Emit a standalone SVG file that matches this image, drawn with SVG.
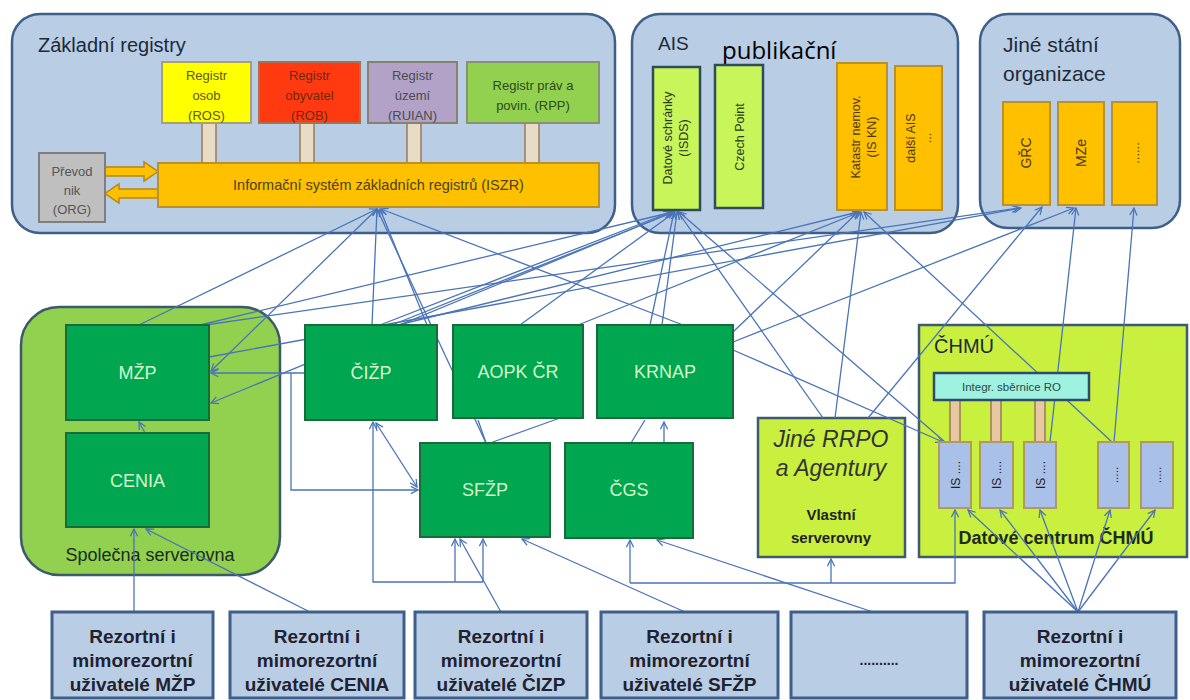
<svg xmlns="http://www.w3.org/2000/svg" width="1190" height="700" viewBox="0 0 1190 700">
<style>
text{font-family:"Liberation Sans",Arial,sans-serif}
.ct{fill:#b9cde5;stroke:#3d5f8a;stroke-width:2.5}
.g{fill:#00a650;stroke:#1a6b3c;stroke-width:2}
.gt{fill:#d6f7c9;font-size:18px;text-anchor:middle}
.yg{fill:#c9ef3f;stroke:#3d5a70;stroke-width:2.5}
.or{fill:#ffc000;stroke:#b8912a;stroke-width:2}
.lg{fill:#c8f55a;stroke:#2e4d5c;stroke-width:2.5}
.ub{fill:#b9cde5;stroke:#3d5f8a;stroke-width:3}
.is{fill:#a9c0e8;stroke:#b09a60;stroke-width:2}
.pl{fill:#e8dcc6;stroke:#9a7a5a;stroke-width:1.5}
.c{fill:none;stroke:#4a74b8;stroke-width:1.3}
.ca{fill:none;stroke:#4a74b8;stroke-width:1.3;marker-end:url(#a)}
.cb{fill:none;stroke:#4a74b8;stroke-width:1.3;marker-end:url(#a);marker-start:url(#a)}
.ttl{fill:#1c2a3a;font-size:20px}
.rt{font-size:13px;text-anchor:middle}
.ut{fill:#1f2230;font-size:19px;font-weight:bold;text-anchor:middle}
.bar{fill:#ffc000;stroke:#b8860b;stroke-width:1.5}
</style>
<defs>
<marker id="a" viewBox="0 0 10 10" refX="9" refY="5" markerWidth="9" markerHeight="9" orient="auto-start-reverse" markerUnits="userSpaceOnUse"><path d="M1,1 L9,5 L1,9" fill="none" stroke="#4a74b8" stroke-width="1.4"/></marker>
</defs>
<rect width="1190" height="700" fill="#ffffff"/>

<!-- containers -->
<g id="zakladni-registry"><rect class="ct" x="12" y="14" width="603" height="219" rx="28"/><text class="ttl" x="38" y="52">Základní registry</text></g>
<g id="ais"><rect class="ct" x="632" y="14" width="326" height="219" rx="28"/><text class="ttl" x="658" y="50" style="font-size:19px">AIS</text><text x="722" y="59" style="font-family:'Open Sans',sans-serif;font-size:24px;fill:#000">publikační</text></g>
<g id="jine-statni"><rect class="ct" x="980" y="14" width="200" height="214" rx="28"/><text class="ttl" x="1003" y="52" style="font-size:21px">Jiné státní</text><text class="ttl" x="1003" y="81" style="font-size:21px">organizace</text></g>
<g id="spolecna"><rect x="21" y="307" width="259" height="268" rx="38" fill="#92d050" stroke="#3d5a6b" stroke-width="2.5"/><text x="150" y="561" style="font-size:18px;fill:#1a2a1a;text-anchor:middle">Společna serverovna</text></g>
<g id="chmu"><rect class="yg" x="919" y="325" width="268" height="232"/><text class="ttl" x="934" y="353">ČHMÚ</text><text x="1056" y="544" style="font-size:18px;font-weight:bold;fill:#1f2a1a;text-anchor:middle">Datové centrum ČHMÚ</text></g>
<g id="jine-rrpo"><rect class="yg" x="758" y="418" width="147" height="139"/><text x="831" y="447" style="font-size:23px;font-style:italic;fill:#333;text-anchor:middle">Jiné RRPO</text><text x="831" y="476" style="font-size:23px;font-style:italic;fill:#333;text-anchor:middle">a Agentury</text><text x="831" y="520" style="font-size:15px;font-weight:bold;fill:#222;text-anchor:middle">Vlastní</text><text x="831" y="543" style="font-size:15px;font-weight:bold;fill:#222;text-anchor:middle">serverovny</text></g>

<!-- connectors -->
<g id="connectors">
<polygon class="bar" points="105,167 144,167 144,162 158,171.5 144,181 144,176 105,176"/>
<polygon class="bar" points="158,189 119,189 119,184 105,193.5 119,203 119,198 158,198"/>
<path class="ca" d="M139,325 L377,209"/>
<path class="ca" d="M377,209 L211,371"/>
<path class="ca" d="M372,325 L377,209"/>
<path class="ca" d="M427,325 L380,209"/>
<path class="ca" d="M683,325 L381,209"/>
<path class="ca" d="M486,443 L377,209"/>
<path class="ca" d="M200,325 L673,212"/>
<path class="ca" d="M673,212 L211,403"/>
<path class="ca" d="M380,325 L671,212"/>
<path class="ca" d="M392,325 L674,212"/>
<path class="ca" d="M520,325 L675,212"/>
<path class="ca" d="M578,325 L860,212"/>
<path class="ca" d="M398,325 L858,212"/>
<path class="ca" d="M650,325 L674,212"/>
<path class="ca" d="M662,325 L677,212"/>
<path class="ca" d="M823,418 L678,212"/>
<path class="ca" d="M945,442 L679,212"/>
<path class="ca" d="M733,332 L858,212"/>
<path class="ca" d="M835,418 L861,212"/>
<path class="ca" d="M1112,442 L864,212"/>
<path class="ca" d="M205,325 L1019,208"/>
<path class="ca" d="M209,357 L1021,208"/>
<path class="ca" d="M733,342 L1074,208"/>
<path class="ca" d="M1050,442 L1076,208"/>
<path class="ca" d="M1114,442 L1134,208"/>
<path class="ca" d="M868,418 L1042,207"/>
<path class="ca" d="M733,350 L943,442"/>
<path class="ca" d="M305,373 L211,373"/>
<path class="ca" d="M291,373 V490 H418"/>
<path class="cb" d="M376,423 L417,487"/>
<path class="ca" d="M145,433 L139,422"/>
<path class="c" d="M478,420 L486,443"/>
<path class="c" d="M560,418 L490,443"/>
<path class="c" d="M631,443 L645,420"/>
<path class="ca" d="M664,443 L664,422"/>
<path class="ca" d="M483,582 H373 V422"/>
<path class="ca" d="M455,582 V539"/>
<path class="ca" d="M483,582 V539"/>
<path class="ca" d="M630,583 H955 V510"/>
<path class="ca" d="M630,583 V540"/>
<path class="ca" d="M831,583 V559"/>
<path class="ca" d="M134,612 V529"/>
<path class="ca" d="M310,612 L146,529"/>
<path class="ca" d="M501,612 L460,539"/>
<path class="ca" d="M685,612 L522,539"/>
<path class="ca" d="M873,612 L657,540"/>
<path class="ca" d="M1078,612 L968,510"/>
<path class="ca" d="M1078,612 L1000,510"/>
<path class="ca" d="M1078,612 L1040,510"/>
<path class="ca" d="M1078,612 L1110,510"/>
<path class="ca" d="M1078,612 L1155,510"/>
</g>

<!-- Základní registry inner -->
<g id="pillars-zr"><rect class="pl" x="202" y="123" width="14" height="40"/><rect class="pl" x="300" y="123" width="14" height="40"/><rect class="pl" x="407" y="123" width="14" height="40"/><rect class="pl" x="525" y="123" width="14" height="40"/></g>
<g id="ros"><rect x="162" y="62" width="89" height="61" fill="#ffff00" stroke="#a8a070" stroke-width="2"/><text class="rt" x="206.5" y="80" fill="#5a5a10">Registr</text><text class="rt" x="206.5" y="100" fill="#5a5a10">osob</text><text class="rt" x="206.5" y="120" fill="#5a5a10">(ROS)</text></g>
<g id="rob"><rect x="259" y="62" width="101" height="61" fill="#ff3a10" stroke="#a87050" stroke-width="2"/><text class="rt" x="309.5" y="80" fill="#6a2a10">Registr</text><text class="rt" x="309.5" y="100" fill="#6a2a10">obyvatel</text><text class="rt" x="309.5" y="120" fill="#6a2a10">(ROB)</text></g>
<g id="ruian"><rect x="368" y="62" width="89" height="61" fill="#b3a2c7" stroke="#8a8070" stroke-width="2"/><text class="rt" x="412.5" y="80" fill="#4a4a50">Registr</text><text class="rt" x="412.5" y="100" fill="#4a4a50">území</text><text class="rt" x="412.5" y="120" fill="#4a4a50">(RUIAN)</text></g>
<g id="rpp"><rect x="467" y="62" width="132" height="61" fill="#92d050" stroke="#8a9070" stroke-width="2"/><text class="rt" x="533" y="90" fill="#2e4a1a">Registr práv a</text><text class="rt" x="533" y="110" fill="#2e4a1a">povin. (RPP)</text></g>
<g id="iszr"><rect x="158" y="163" width="441" height="44" fill="#ffc000" stroke="#b8912a" stroke-width="2"/><text x="378.5" y="190" style="font-size:14.5px;fill:#4a4218;text-anchor:middle">Informační systém základních registrů (ISZR)</text></g>
<g id="prevodnik"><rect x="39" y="153" width="66" height="69" fill="#bfbfbf" stroke="#7f7f7f" stroke-width="2"/><text class="rt" x="72" y="176" fill="#555">Převod</text><text class="rt" x="72" y="195" fill="#555">nik</text><text class="rt" x="72" y="214" fill="#555">(ORG)</text></g>

<!-- AIS inner -->
<g id="isds"><rect class="lg" x="653" y="67" width="47" height="143"/><text class="rt" transform="translate(672,138) rotate(-90)" fill="#2a3a1a" style="font-size:12.5px">Datové schránky</text><text class="rt" transform="translate(688,138) rotate(-90)" fill="#2a3a1a" style="font-size:12.5px">(ISDS)</text></g>
<g id="czech-point"><rect class="lg" x="715" y="65" width="48" height="143"/><text class="rt" transform="translate(744,137) rotate(-90)" fill="#2a3a1a" style="font-size:12.5px">Czech Point</text></g>
<g id="katastr"><rect class="or" x="837" y="63" width="50" height="147"/><text class="rt" transform="translate(860,137) rotate(-90)" fill="#4a3a10" style="font-size:12.5px">Katastr nemov.</text><text class="rt" transform="translate(876,137) rotate(-90)" fill="#4a3a10" style="font-size:12.5px">(IS KN)</text></g>
<g id="dalsi-ais"><rect class="or" x="895" y="66" width="47" height="144"/><text class="rt" transform="translate(915,138) rotate(-90)" fill="#4a3a10" style="font-size:12.5px">další AIS</text><text class="rt" transform="translate(931,138) rotate(-90)" fill="#4a3a10" style="font-size:12.5px">...</text></g>

<!-- Jiné státní inner -->
<g id="grc"><rect class="or" x="1003" y="102" width="47" height="103"/><text class="rt" transform="translate(1031,153) rotate(-90)" fill="#4a3a10" style="font-size:14px">GŘC</text></g>
<g id="mze"><rect class="or" x="1058" y="102" width="46" height="103"/><text class="rt" transform="translate(1086,153) rotate(-90)" fill="#4a3a10" style="font-size:14px">MZe</text></g>
<g id="jso-dots"><rect class="or" x="1112" y="102" width="45" height="103"/><text class="rt" transform="translate(1139,153) rotate(-90)" fill="#4a3a10" style="font-size:13px">......</text></g>

<!-- green nodes -->
<g id="mzp"><rect class="g" x="66" y="325" width="143" height="95"/><text class="gt" x="137.5" y="379">MŽP</text></g>
<g id="cenia"><rect class="g" x="66" y="433" width="143" height="94"/><text class="gt" x="137.5" y="487">CENIA</text></g>
<g id="cizp"><rect class="g" x="305" y="325" width="132" height="95"/><text class="gt" x="371" y="379">ČIŽP</text></g>
<g id="aopk"><rect class="g" x="453" y="325" width="130" height="93"/><text class="gt" x="518" y="378">AOPK ČR</text></g>
<g id="krnap"><rect class="g" x="597" y="325" width="136" height="93"/><text class="gt" x="665" y="378">KRNAP</text></g>
<g id="sfzp"><rect class="g" x="420" y="443" width="130" height="94"/><text class="gt" x="485" y="496">SFŽP</text></g>
<g id="cgs"><rect class="g" x="565" y="443" width="128" height="95"/><text class="gt" x="629" y="496">ČGS</text></g>

<!-- ČHMÚ inner -->
<g id="pillars-chmu"><rect class="pl" x="950" y="400" width="10" height="42" style="fill:#e8c8a0"/><rect class="pl" x="991" y="400" width="10" height="42" style="fill:#e8c8a0"/><rect class="pl" x="1035" y="400" width="10" height="42" style="fill:#e8c8a0"/></g>
<g id="sbernice"><rect x="934" y="373" width="155" height="27" fill="#a0f2e0" stroke="#2e4d6a" stroke-width="2.5"/><text x="1011.5" y="391" style="font-size:11.5px;fill:#2a4a4a;text-anchor:middle">Integr. sběrnice RO</text></g>
<g id="is1"><rect class="is" x="939" y="442" width="32" height="66"/><text class="rt" transform="translate(960,475) rotate(-90)" fill="#222" style="font-size:12px">IS ....</text></g>
<g id="is2"><rect class="is" x="980" y="442" width="33" height="66"/><text class="rt" transform="translate(1001,475) rotate(-90)" fill="#222" style="font-size:12px">IS ....</text></g>
<g id="is3"><rect class="is" x="1024" y="442" width="32" height="66"/><text class="rt" transform="translate(1045,475) rotate(-90)" fill="#222" style="font-size:12px">IS ....</text></g>
<g id="is4"><rect class="is" x="1098" y="442" width="31" height="66"/><text class="rt" transform="translate(1118,475) rotate(-90)" fill="#333" style="font-size:12px">.....</text></g>
<g id="is5"><rect class="is" x="1141" y="442" width="32" height="66"/><text class="rt" transform="translate(1161,475) rotate(-90)" fill="#333" style="font-size:12px">.....</text></g>

<!-- bottom users -->
<g id="u-mzp"><rect class="ub" x="52" y="612" width="161" height="86"/><text class="ut" x="132.5" y="643">Rezortní i</text><text class="ut" x="132.5" y="667">mimorezortní</text><text class="ut" x="132.5" y="691">uživatelé MŽP</text></g>
<g id="u-cenia"><rect class="ub" x="230" y="612" width="174" height="86"/><text class="ut" x="317" y="643">Rezortní i</text><text class="ut" x="317" y="667">mimorezortní</text><text class="ut" x="317" y="691">uživatelé CENIA</text></g>
<g id="u-cizp"><rect class="ub" x="415" y="612" width="172" height="86"/><text class="ut" x="501" y="643">Rezortní i</text><text class="ut" x="501" y="667">mimorezortní</text><text class="ut" x="501" y="691">uživatelé ČIZP</text></g>
<g id="u-sfzp"><rect class="ub" x="601" y="612" width="177" height="86"/><text class="ut" x="689.5" y="643">Rezortní i</text><text class="ut" x="689.5" y="667">mimorezortní</text><text class="ut" x="689.5" y="691">uživatelé SFŽP</text></g>
<g id="u-dots"><rect class="ub" x="791" y="612" width="176" height="86"/><text class="ut" x="879" y="665" style="font-size:14px">..........</text></g>
<g id="u-chmu"><rect class="ub" x="984" y="612" width="192" height="86"/><text class="ut" x="1080" y="643">Rezortní i</text><text class="ut" x="1080" y="667">mimorezortní</text><text class="ut" x="1080" y="691">uživatelé ČHMÚ</text></g>
</svg>
